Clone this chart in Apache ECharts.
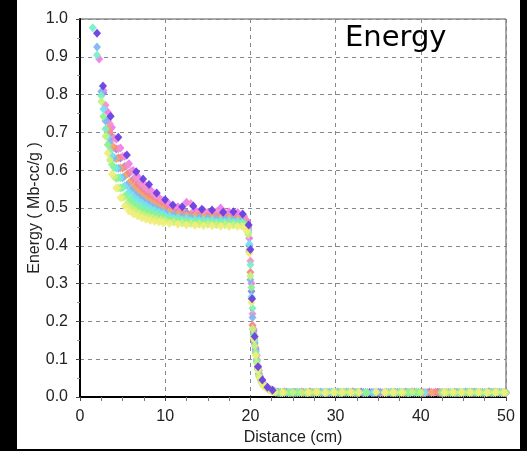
<!DOCTYPE html>
<html>
<head>
<meta charset="utf-8">
<script src="https://cdn.jsdelivr.net/npm/echarts@6/dist/echarts.min.js"></script>
<style>
html,body{margin:0;padding:0;background:#000;}
#wrap{position:relative;width:527px;height:451px;background:#000;overflow:hidden;}
#panel{position:absolute;left:17px;top:0;width:503px;height:449px;background:#fff;}
#chart{position:absolute;left:0;top:0;width:527px;height:451px;}
</style>
</head>
<body>
<div id="wrap"><div id="panel"></div><div id="chart"></div></div>
<script>
// distance samples (cm) – build-up, plateau and fall-off
const distA = [1.5,2,2.5,3,3.5,4,4.5,5,5.5,6,6.5,7,7.5,8,8.5,9,9.5,10,11,12,13,14,15,16,17,18,19,19.5,
  19.75,20,20.25,20.5,20.75,21,21.25,21.5,22,22.5,23];
const distB = [1.75,2.25,2.75,3.25,3.75,4.25,4.75,5.25,5.75,6.25,6.75,7.25,7.75,8.25,8.75,9.25,9.75,10.5,11.5,12.5,13.5,14.5,15.5,16.5,17.5,18.5,19.25,
  19.625,19.875,20.125,20.375,20.625,20.875,21.125,21.375,21.75,22.25,22.75];
const distPurple = [2.0,2.7,3.6,4.5,5.5,6.6,7.4,8.1,9.0,10.0,10.9,12.0,13.3,14.3,15.5,16.8,18.0,19.1,
  19.8,20.0,20.2,20.5,20.9,21.4,22.0,22.6];
// distance samples (cm) – tail beyond the fall-off
const tailP = [24,25,26,27,28,29,30,31,32,33,34,35,36,37,38,39,40,41,42,43,44,45,46,47,48,49,50];
const tailQ = [23.25,24.25,25.25,26.25,27.25,28.25,29.25,30.25,31.25,32.25,33.25,34.25,35.25,36.25,37.25,38.25,39.25,40.25,41.25,42.25,43.25,44.25,45.25,46.25,47.25,48.25,49.25];
const tailR = [23.5,24.5,25.5,26.5,27.5,28.5,29.5,30.5,31.5,32.5,33.5,34.5,35.5,36.5,37.5,38.5,39.5,40.5,41.5,42.5,43.5,44.5,45.5,46.5,47.5,48.5,49.5];
const tailS = [23.75,24.75,25.75,26.75,27.75,28.75,29.75,30.75,31.75,32.75,33.75,34.75,35.75,36.75,37.75,38.75,39.75,40.75,41.75,42.75,43.75,44.75,45.75,46.75,47.75,48.75,49.75];

// energy (Mb-cc/g) per run
const ePurple = [.962,.823,.743,.687,.64,.596,.577,.562,.54,.522,.508,.503,.505,.497,.495,.489,.49,.484,
  .455,.39,.26,.16,.08,.045,.026,.018];
const tPurple = [.013,.012,.012,.013,.012,.011,.012,.012,.013,.012,.012,.011,.012,.012,.012,.013,.012,.011,.012,.012,.012,.011,.012,.012,.013,.012,.012];

const ePink = [null,null,null,.772,.723,.686,.657,.636,.612,.597,.58,.566,.556,.546,.534,.527,.517,.512,.502,.495,.512,.49,.488,.49,.489,.487,.482,.467,
  .45,.36,.22,.155,.11,.07,.048,.035,.026,.019,.014];
const tPink = [.012,.012,.013,.012,.012,.012,.011,.012,.013,.012,.012,.012,.011,.012,.012,.012,.013,.012,.012,.011,.012,.012,.012,.013,.012,.012,.011];

const eSalmon = [null,null,null,null,.70,.66,.633,.606,.589,.571,.558,.547,.536,.529,.519,.511,.506,.499,.49,.486,.484,.481,.479,.478,.476,.476,.471,.461,
  .445,.33,.19,.145,.10,.062,.045,.033,.024,.018,.013];
const tSalmon = [.012,.011,.012,.012,.013,.012,.012,.011,.012,.012,.012,.013,.012,.012,.011,.012,.012,.012,.013,.012,.012,.012,.011,.012,.012,.013,.012];

const eLightBlue = [null,.926,.808,.73,.674,.633,.605,.58,.561,.548,.536,.527,.518,.511,.503,.498,.492,.488,.482,.477,.475,.474,.473,.471,.47,.469,.466,.456,
  .44,.31,.21,.14,.095,.06,.044,.032,.024,.017,.013];
const tLightBlue = [.012,.012,.012,null,null,.013,.012,.012,.012,.011,.012,.012,.013,null,.012,.012,.012,null,null,null,null,.012,.013,.012,.011,.012,.012];

const eMint = [.977,.905,.797,.709,.651,.607,.58,.554,.535,.524,.513,.505,.499,.494,.488,.484,.48,.477,.472,.469,.466,.466,.465,.463,.463,.462,.46,.452,
  .435,.35,.235,.15,.098,.058,.042,.031,.023,.017,.013];
const tMint = [.011,.012,.012,.012,.012,.011,.013,.012,.012,.012,.011,.012,.012,.012,.013,.011,.012,null,null,.012,.011,.012,.013,.012,.012,.011,.012];

const eYellowGreen = [null,null,.782,.69,.627,.583,.553,.528,.51,.5,.493,.486,.481,.477,.474,.471,.468,.466,.463,.46,.459,.458,.457,.456,.456,.455,.453,.447,
  .43,.32,.18,.135,.09,.055,.04,.03,.022,.016,.013];
const tYellowGreen = [.012,.012,.011,.012,.012,.012,.012,.013,.011,null,null,null,.012,.011,.012,.013,.012,null,null,.012,.011,.012,.012,.012,.012,.013,.011];

const eMagenta = [null,.894,.811,.754,.713,.682,.659,.637,.617,.599,.584,.57,.559,.548,.538,.528,.52,.51,.503,.515,.496,.494,.492,.50,.49,.488,.478,
  .465,.42,.30,.18,.13,.082,.055,.041,.03,.021,.016];
const tMagenta = [.013,.012,.012,.012,.011,.012,.012,.013,.012,.012,.011,.012,.012,.012,.012,.013,.012,.011,.012,.012,.012,.012,.013,.012,.011,.012,.012];

const eBlue = [null,null,.805,.732,.688,.656,.632,.61,.592,.576,.563,.551,.541,.532,.523,.515,.508,.5,.493,.488,.487,.485,.484,.482,.48,.478,.471,
  .455,.40,.28,.175,.125,.08,.054,.04,.029,.02,.015];
const tBlue = [.012,.012,.013,.012,.012,.011,.012,.012,.012,.013,null,.012,.011,.012,.012,.012,.012,.013,.012,.011,.012,.012,.012,.012,.013,.012,.011];

const eOrange = [null,null,null,.71,.664,.63,.606,.584,.567,.553,.542,.532,.523,.516,.509,.502,.496,.49,.484,.48,.479,.477,.476,.474,.473,.471,.465,
  .45,.385,.26,.17,.12,.075,.052,.039,.028,.02,.015];
const tOrange = [.012,.013,.012,.012,.012,.011,.012,.012,.013,.012,.012,.012,.011,null,.012,.012,.013,.012,.012,.012,.011,.012,.012,.013,.012,.012,.012];

const eCyan = [null,null,.762,.689,.639,.605,.58,.558,.542,.53,.521,.513,.506,.499,.494,.489,.485,.479,.475,.472,.47,.469,.468,.467,.466,.464,.459,
  .445,.405,.265,.165,.12,.076,.05,.038,.028,.02,.015];
const tCyan = [.012,.012,.012,.011,.012,.012,.013,.012,.012,.012,.011,.012,null,.012,.013,.012,.012,.011,null,.012,.012,.012,.013,.012,.012,.011,.012];

const eGreen = [null,null,.742,.667,.615,.579,.553,.531,.517,.508,.5,.493,.488,.483,.48,.476,.473,.469,.466,.463,.462,.461,.461,.459,.458,.457,.455,
  .44,.39,.29,.16,.115,.072,.05,.037,.027,.019,.014];
const tGreen = [.012,.011,.012,.012,.012,null,null,.011,.012,.012,.012,null,null,.013,.012,.011,.012,null,null,.012,.012,.011,.012,.012,.012,.013,.012];

const eYellow = [null,null,null,.645,.59,.553,.527,.505,.492,.485,.479,.474,.47,.467,.465,.463,.461,.459,.457,.455,.454,.453,.453,.452,.451,.451,.449,
  .44,.38,.25,.155,.11,.07,.048,.036,.026,.019,.014];
const tYellow = [.012,null,null,.012,.013,.011,.012,.012,.012,.012,null,.013,.012,.012,.012,null,null,null,null,.012,.013,.012,.012,.012,.011,.012,.012];

// tail drawing order (first = underneath)
const tails = [
  {x:tailP, y:tPurple, color:'#6a40e2'},
  {x:tailP, y:tBlue, color:'#8a88f0'},
  {x:tailQ, y:tMagenta, color:'#f07cf0'},
  {x:tailR, y:tPink, color:'#f490cc'},
  {x:tailS, y:tSalmon, color:'#f48a86'},
  {x:tailQ, y:tOrange, color:'#f4a66a'},
  {x:tailQ, y:tLightBlue, color:'#84b6f2'},
  {x:tailR, y:tCyan, color:'#76e2f0'},
  {x:tailS, y:tMint, color:'#7af0c4'},
  {x:tailR, y:tGreen, color:'#8ef290'},
  {x:tailP, y:tYellowGreen, color:'#c6f27c'},
  {x:tailS, y:tYellow, color:'#f0ee7c'}
];
// main-curve drawing order (first = underneath)
const heads = [
  {x:distB, y:eBlue, color:'#8a88f0'},
  {x:distB, y:eMagenta, color:'#f07cf0'},
  {x:distA, y:ePink, color:'#f490cc'},
  {x:distA, y:eSalmon, color:'#f48a86'},
  {x:distB, y:eOrange, color:'#f4a66a'},
  {x:distA, y:eLightBlue, color:'#84b6f2'},
  {x:distB, y:eCyan, color:'#76e2f0'},
  {x:distA, y:eMint, color:'#7af0c4'},
  {x:distB, y:eGreen, color:'#8ef290'},
  {x:distA, y:eYellowGreen, color:'#c6f27c'},
  {x:distB, y:eYellow, color:'#f0ee7c'},
  {x:distPurple, y:ePurple, color:'#6a40e2'}
];

const xTicks = [0,10,20,30,40,50];
const yTicks = [0,0.1,0.2,0.3,0.4,0.5,0.6,0.7,0.8,0.9,1.0];

const pts = (xs, ys) => xs.map((d,i) => [d, ys[i]]).filter(p => p[1] !== null && p[1] !== undefined);

const font = "'Liberation Sans', Arial, sans-serif";
const chart = echarts.init(document.getElementById('chart'), null, {renderer:'canvas'});
chart.setOption({
  backgroundColor: 'transparent',
  animation: false,
  title: {
    text: 'Energy', left: 340, top: 19,
    textStyle: {fontFamily: "'DejaVu Sans', sans-serif", fontSize: 29, fontWeight: 'normal', color: '#000'}
  },
  grid: {left: 80, top: 19, right: 21, bottom: 54, show: true, borderColor: '#555', borderWidth: 1, backgroundColor: 'transparent'},
  xAxis: {
    type: 'value', min: xTicks[0], max: xTicks[xTicks.length-1], interval: 10,
    name: 'Distance (cm)', nameLocation: 'middle', nameGap: 32,
    nameTextStyle: {fontFamily: font, fontSize: 16, color: '#222'},
    axisLine: {show: true, onZero: false, lineStyle: {color: '#000', width: 2}},
    axisTick: {show: true, length: 4, lineStyle: {color: '#444'}},
    minorTick: {show: true, splitNumber: 4, length: 4, lineStyle: {color: '#777'}},
    axisLabel: {fontFamily: font, fontSize: 16, color: '#222', margin: 12},
    splitLine: {show: true, lineStyle: {color: '#888', type: [4,4], width: 1}}
  },
  yAxis: {
    type: 'value', min: yTicks[0], max: yTicks[yTicks.length-1], interval: 0.1,
    name: 'Energy ( Mb-cc/g )', nameLocation: 'middle', nameGap: 37, nameMoveOverlap: false,
    nameTextStyle: {fontFamily: font, fontSize: 16, color: '#222'},
    axisLine: {show: true, onZero: false, lineStyle: {color: '#000', width: 2}},
    axisTick: {show: true, length: 4, lineStyle: {color: '#444'}},
    minorTick: {show: true, splitNumber: 2, length: 3, lineStyle: {color: '#999'}},
    axisLabel: {fontFamily: font, fontSize: 16, color: '#222', margin: 12, formatter: v => v.toFixed(1)},
    splitLine: {show: true, lineStyle: {color: '#888', type: [4,4], width: 1}}
  },
  series: tails.concat(heads).map(r => ({
    type: 'scatter', symbol: 'diamond', symbolSize: [8,9],
    itemStyle: {color: r.color, opacity: 0.95},
    data: pts(r.x, r.y)
  }))
});
</script>
</body>
</html>
